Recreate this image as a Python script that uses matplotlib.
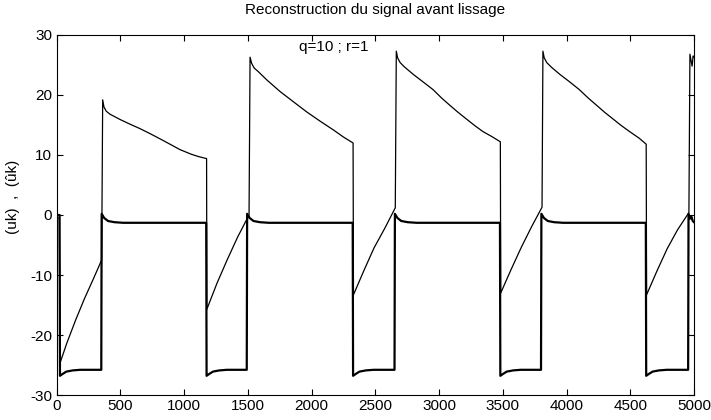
import matplotlib
matplotlib.use('Agg')
import matplotlib.pyplot as plt

# --- Values ---
# thin line (reconstructed signal, uk-hat): breakpoints (k, value)
t_hat = [0, 22, 27, 80, 150, 220, 290, 354,
         362, 372, 390, 419, 500, 580, 654, 730, 811, 890, 968, 1060, 1120, 1177,
         1179, 1260, 1340, 1420, 1510,
         1518, 1530, 1550, 1582, 1650, 1752, 1850, 1961, 2070, 2170, 2250, 2326,
         2329, 2410, 2490, 2575, 2657,
         2665, 2675, 2695, 2733, 2800, 2880, 2953, 3020, 3084, 3150, 3215, 3280, 3345, 3420, 3481,
         3484, 3565, 3645, 3725, 3808,
         3815, 3825, 3845, 3883, 3950, 4030, 4100, 4170, 4235, 4300, 4365, 4430, 4495, 4570, 4625,
         4628, 4710, 4790, 4870, 4960,
         4968, 4985, 4993, 5000]
uk_hat = [-0.5, -0.5, -24.7, -21.4, -17.5, -13.9, -10.6, -7.5,
          19.2, 18.0, 17.3, 16.8, 15.9, 15.1, 14.4, 13.6, 12.7, 11.8, 10.9, 10.1, 9.7, 9.4,
          -15.7, -11.3, -7.4, -3.7, 0.0,
          26.3, 25.3, 24.5, 23.9, 22.5, 20.6, 19.0, 17.2, 15.6, 14.2, 13.0, 12.0,
          -13.3, -9.3, -5.5, -2.2, 1.2,
          27.3, 26.2, 25.4, 24.6, 23.4, 22.1, 20.9, 19.5, 18.3, 17.1, 16.0, 14.9, 13.9, 13.0, 12.2,
          -13.0, -9.1, -5.4, -2.0, 1.3,
          27.3, 26.2, 25.4, 24.6, 23.4, 22.1, 20.9, 19.5, 18.3, 17.1, 16.0, 14.9, 13.9, 12.8, 11.8,
          -13.3, -9.3, -5.6, -2.5, 0.4,
          26.8, 24.8, 26.5, 26.3]

# thick line (control signal, uk)
t_u = [0, 24, 27, 47, 77, 127, 187, 351,
       354, 374, 404, 454, 524, 1174,
       1177, 1197, 1227, 1277, 1337, 1492,
       1495, 1515, 1545, 1595, 1665, 2323,
       2326, 2346, 2376, 2426, 2486, 2651,
       2654, 2674, 2704, 2754, 2824, 3478,
       3481, 3501, 3531, 3581, 3641, 3800,
       3803, 3823, 3853, 3903, 3973, 4622,
       4625, 4645, 4675, 4725, 4785, 4954,
       4957, 4970, 4980, 4990, 5000]
uk = [0.0, 0.0, -26.8, -26.5, -26.1, -25.9, -25.8, -25.8,
      0.2, -0.5, -1.0, -1.2, -1.3, -1.3,
      -26.8, -26.5, -26.1, -25.9, -25.8, -25.8,
      0.2, -0.5, -1.0, -1.2, -1.3, -1.3,
      -26.8, -26.5, -26.1, -25.9, -25.8, -25.8,
      0.2, -0.5, -1.0, -1.2, -1.3, -1.3,
      -26.8, -26.5, -26.1, -25.9, -25.8, -25.8,
      0.2, -0.5, -1.0, -1.2, -1.3, -1.3,
      -26.8, -26.5, -26.1, -25.9, -25.8, -25.8,
      0.2, -0.6, -0.3, -1.0, -1.2]

x_ticks = [0, 500, 1000, 1500, 2000, 2500, 3000, 3500, 4000, 4500, 5000]
y_ticks = [-30, -20, -10, 0, 10, 20, 30]

plt.rcParams['font.family'] = ['Liberation Sans', 'DejaVu Sans']
plt.rcParams['axes.unicode_minus'] = False

# --- Plotting ---
fig = plt.figure(figsize=(7.11, 4.20), dpi=100)
ax = fig.add_axes([0.0795, 0.0595, 0.8966, 0.8572])

ax.plot(t_hat, uk_hat, color='black', linewidth=0.9)
ax.plot(t_u, uk, color='black', linewidth=1.6)

ax.set_xlim(0, 5000)
ax.set_ylim(-30, 30)
ax.set_xticks(x_ticks)
ax.set_yticks(y_ticks)
ax.tick_params(direction='in', length=4.5, width=0.8, top=True, right=True,
               labelsize=11, pad=3)

ax.set_title('Reconstruction du signal avant lissage', fontsize=11, pad=15)
ax.set_ylabel('(uk)  ,  (ûk)', fontsize=11)
ax.yaxis.set_label_coords(-0.058, 0.55)
ax.text(2175, 28, 'q=10 ; r=1', fontsize=11, ha='center', va='center')

for s in ax.spines.values():
    s.set_linewidth(0.8)

plt.savefig('out.png', dpi=100)
